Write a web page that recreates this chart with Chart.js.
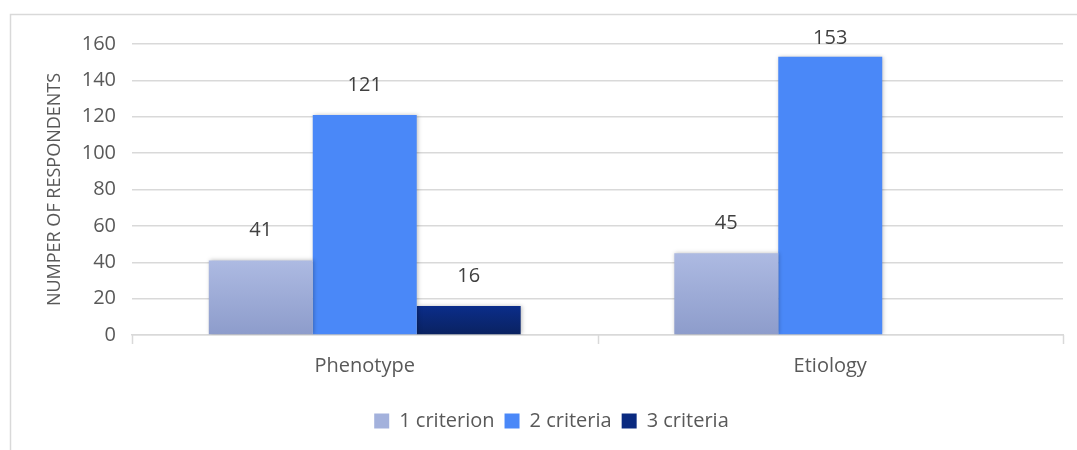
<!DOCTYPE html>
<html>
<head>
<meta charset="utf-8">
<script src="https://cdn.jsdelivr.net/npm/chart.js@4.4.1/dist/chart.umd.min.js"></script>
<style>
  html, body { margin: 0; padding: 0; background: #fff; }
  #wrap { position: relative; width: 1077px; height: 450px; }
</style>
</head>
<body>
<div id="wrap"><canvas id="c" width="1077" height="450"></canvas></div>
<script>
const categories = ["Phenotype", "Etiology"];
const seriesNames = ["1 criterion", "2 criteria", "3 criteria"];
const oneCriterion = [41, 45];
const twoCriteria = [121, 153];
const threeCriteria = [16, null];
const yTicks = [0, 20, 40, 60, 80, 100, 120, 140, 160];

const FONT = "'Open Sans', 'Noto Sans', sans-serif";
const TEXT = "#595959";

function barGrad(c, top, bottom) {
  const chart = c.chart;
  const area = chart.chartArea;
  const ys = chart.scales && chart.scales.y;
  if (!area || !ys || c.raw === null || c.raw === undefined) return top;
  const yTop = ys.getPixelForValue(c.raw);
  const g = chart.ctx.createLinearGradient(0, yTop, 0, area.bottom);
  g.addColorStop(0, top);
  g.addColorStop(1, bottom);
  return g;
}

const framePlugin = {
  id: 'frame',
  beforeDraw(chart) {
    const ctx = chart.ctx;
    ctx.save();
    ctx.fillStyle = '#fff';
    ctx.fillRect(0, 0, chart.width, chart.height);
    ctx.strokeStyle = '#d9d9d9';
    ctx.lineWidth = 1.5;
    ctx.beginPath();
    ctx.moveTo(10.5, chart.height + 2);
    ctx.lineTo(10.5, 14.5);
    ctx.lineTo(chart.width + 2, 14.5);
    ctx.stroke();
    ctx.restore();
  }
};

const shadowPlugin = {
  id: 'shadow',
  beforeDatasetDraw(chart) {
    const ctx = chart.ctx;
    ctx.save();
    ctx.shadowColor = 'rgba(0,0,0,0.25)';
    ctx.shadowBlur = 4;
    ctx.shadowOffsetX = 1;
    ctx.shadowOffsetY = 0;
  },
  afterDatasetDraw(chart) {
    chart.ctx.restore();
  }
};

const labelPlugin = {
  id: 'valueLabels',
  afterDatasetsDraw(chart) {
    const ctx = chart.ctx;
    const a = chart.chartArea;
    ctx.save();
    ctx.font = "20px " + FONT;
    ctx.fillStyle = "#404040";
    ctx.textAlign = 'center';
    ctx.textBaseline = 'middle';
    chart.data.datasets.forEach((ds, i) => {
      const meta = chart.getDatasetMeta(i);
      meta.data.forEach((bar, j) => {
        const v = ds.data[j];
        if (v === null || v === undefined) return;
        const y = Math.max(bar.y - 30, a.top - 6);
        ctx.fillText(String(v), bar.x, y);
      });
    });
    ctx.restore();
  }
};

const xTickPlugin = {
  id: 'xTicks',
  afterDraw(chart) {
    const ctx = chart.ctx;
    const a = chart.chartArea;
    const n = categories.length;
    ctx.save();
    ctx.strokeStyle = '#d9d9d9';
    ctx.lineWidth = 1.5;
    ctx.beginPath();
    for (let i = 0; i <= n; i++) {
      const x = Math.round(a.left + (a.right - a.left) * i / n) + 0.5;
      ctx.moveTo(x, a.bottom);
      ctx.lineTo(x, a.bottom + 9);
    }
    ctx.stroke();
    ctx.restore();
  }
};

new Chart(document.getElementById('c'), {
  type: 'bar',
  data: {
    labels: categories,
    datasets: [
      {
        label: seriesNames[0],
        data: oneCriterion,
        backgroundColor: (c) => barGrad(c, '#adbae2', '#8d9ccb'),
      },
      {
        label: seriesNames[1],
        data: twoCriteria,
        backgroundColor: '#4a88f8',
      },
      {
        label: seriesNames[2],
        data: threeCriteria,
        backgroundColor: (c) => barGrad(c, '#0b2d8a', '#0a2260'),
      }
    ]
  },
  options: {
    responsive: false,
    animation: false,
    devicePixelRatio: 1,
    layout: { padding: { left: 40, right: 14, top: 44, bottom: 9 } },
    datasets: { bar: { categoryPercentage: 0.67, barPercentage: 1.0, borderWidth: 0 } },
    plugins: {
      tooltip: { enabled: false },
      legend: {
        position: 'bottom',
        labels: {
          font: { family: FONT, size: 20 },
          color: TEXT,
          boxWidth: 15,
          boxHeight: 15,
          padding: 10,
          generateLabels(chart) {
            const cols = ['#a3b1dc', '#4a88f8', '#0a2a80'];
            return chart.data.datasets.map((ds, i) => ({
              text: ds.label,
              fillStyle: cols[i],
              strokeStyle: cols[i],
              lineWidth: 0,
              fontColor: TEXT,
              datasetIndex: i,
              hidden: false
            }));
          }
        }
      }
    },
    scales: {
      x: {
        grid: { display: false, drawTicks: false },
        border: { display: true, color: '#d9d9d9', width: 1.5 },
        ticks: { font: { family: FONT, size: 20 }, color: TEXT, padding: 19 },
        afterFit(s) { s.height = 66; }
      },
      y: {
        min: 0, max: 160,
        afterBuildTicks(s) { s.ticks = yTicks.map(v => ({ value: v })); },
        grid: { color: '#d9d9d9', lineWidth: 1.5, drawTicks: false },
        border: { display: false },
        ticks: { font: { family: FONT, size: 20 }, color: TEXT, padding: 16 },
        title: {
          display: true,
          text: 'NUMPER OF RESPONDENTS',
          font: { family: FONT, size: 18 },
          color: TEXT,
          padding: { top: 4, bottom: 0 }
        },
        afterFit(s) { s.width = 92; }
      }
    }
  },
  plugins: [framePlugin, shadowPlugin, labelPlugin, xTickPlugin]
});
</script>
</body>
</html>
